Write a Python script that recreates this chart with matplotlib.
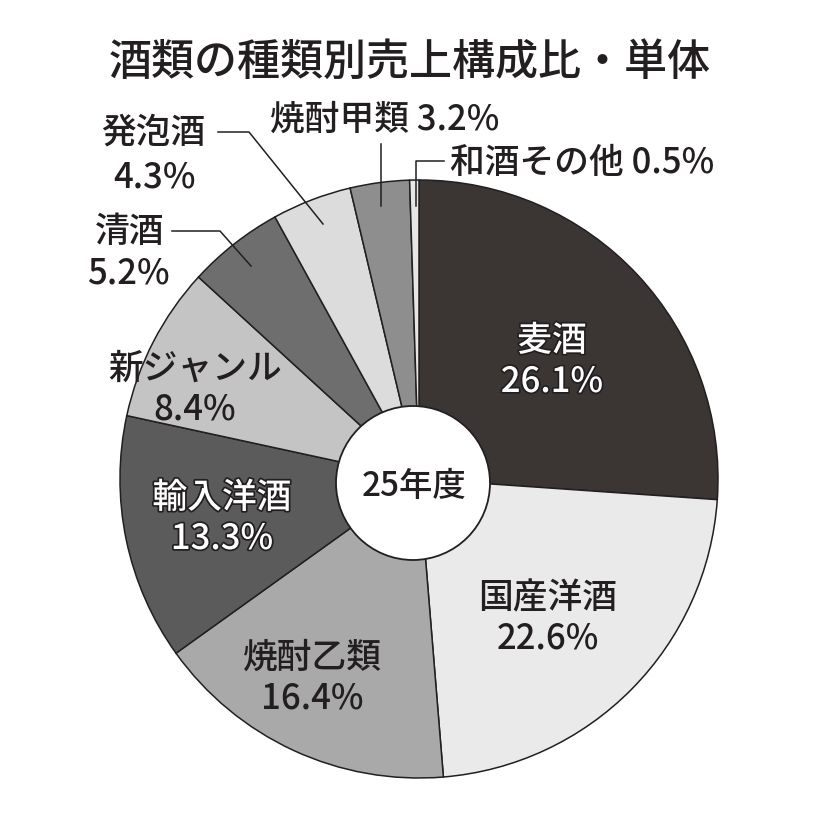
import matplotlib
matplotlib.use("Agg")
import matplotlib.pyplot as plt
import matplotlib.patheffects as pe
from matplotlib.patches import Circle

plt.rcParams['font.family'] = ['Noto Sans CJK JP', 'DejaVu Sans']
plt.rcParams['font.weight'] = 'medium'

# ---- data ----
categories = ["麦酒", "国産洋酒", "焼酎乙類", "輸入洋酒", "新ジャンル", "清酒", "発泡酒", "焼酎甲類", "和酒その他"]
shares = [26.1, 22.6, 16.4, 13.3, 8.4, 5.2, 4.3, 3.2, 0.5]
title = "酒類の種類別売上構成比・単体"
center_label = "25年度"

# ---- styles ----
colors = ["#3b3634", "#e9eae9", "#a9a9a9", "#5b5b5b", "#c4c4c4", "#6e6e6e", "#dcdcdc", "#8e8e8e", "#e6e6e6"]
edge = "#231f20"
H = 820
# label positions in pixel coords (x, y from top)
inner_pos = {0: (552, 362), 1: (548, 618), 2: (312, 678), 3: (222, 519), 4: (195, 389)}
inner_white = {0, 3}

fig = plt.figure(figsize=(8.2, 8.2), dpi=100)
ax = fig.add_axes([0, 0, 1, 1])

cx, cy, R = 419, 480, 299
ax.pie(shares, colors=colors, startangle=90, counterclock=False,
       center=(cx, H - cy), radius=R,
       wedgeprops=dict(edgecolor=edge, linewidth=1.1))
ax.add_patch(Circle((cx - 6, H - cy - 4), 77, facecolor="white", edgecolor=edge, linewidth=1.3, zorder=5))
ax.set_xlim(0, 820)
ax.set_ylim(0, 820)
ax.set_aspect("equal")
ax.axis("off")

def T(x, y, s, **kw):
    ax.text(x, H - y, s, ha=kw.pop("ha", "center"), va=kw.pop("va", "center"), zorder=6, **kw)

T(410, 62, title, fontsize=31, color="#231f20")
T(414, 487, center_label, fontsize=24, color="#231f20")

FS = 25
for i, (x, y) in inner_pos.items():
    if i in inner_white:
        eff = [pe.withStroke(linewidth=2.5, foreground="#231f20")]
        T(x, y - 20, categories[i], fontsize=FS, color="white", path_effects=eff)
        T(x, y + 21, f"{shares[i]}%", fontsize=FS, color="white", path_effects=eff)
    else:
        T(x, y - 20, categories[i], fontsize=FS, color="#231f20")
        T(x, y + 21, f"{shares[i]}%", fontsize=FS, color="#231f20")

# outer labels
T(130, 232, categories[5], fontsize=FS, color="#231f20")
T(128, 273, f"{shares[5]}%", fontsize=FS, color="#231f20")
T(153, 133, categories[6], fontsize=FS, color="#231f20")
T(155, 178, f"{shares[6]}%", fontsize=FS, color="#231f20")
T(270, 120, f"{categories[7]} {shares[7]}%", fontsize=FS, color="#231f20", ha="left")
T(450, 163, f"{categories[8]} {shares[8]}%", fontsize=FS, color="#231f20", ha="left")

def L(pts):
    ax.plot([p[0] for p in pts], [H - p[1] for p in pts], color=edge, linewidth=1.1, zorder=6)

L([(172, 232), (220, 232), (251, 267)])
L([(218, 133), (249, 133), (323, 225)])
L([(381, 145), (381, 207)])
L([(444, 162), (416, 162), (416, 207)])

fig.savefig("out.png", dpi=100)
